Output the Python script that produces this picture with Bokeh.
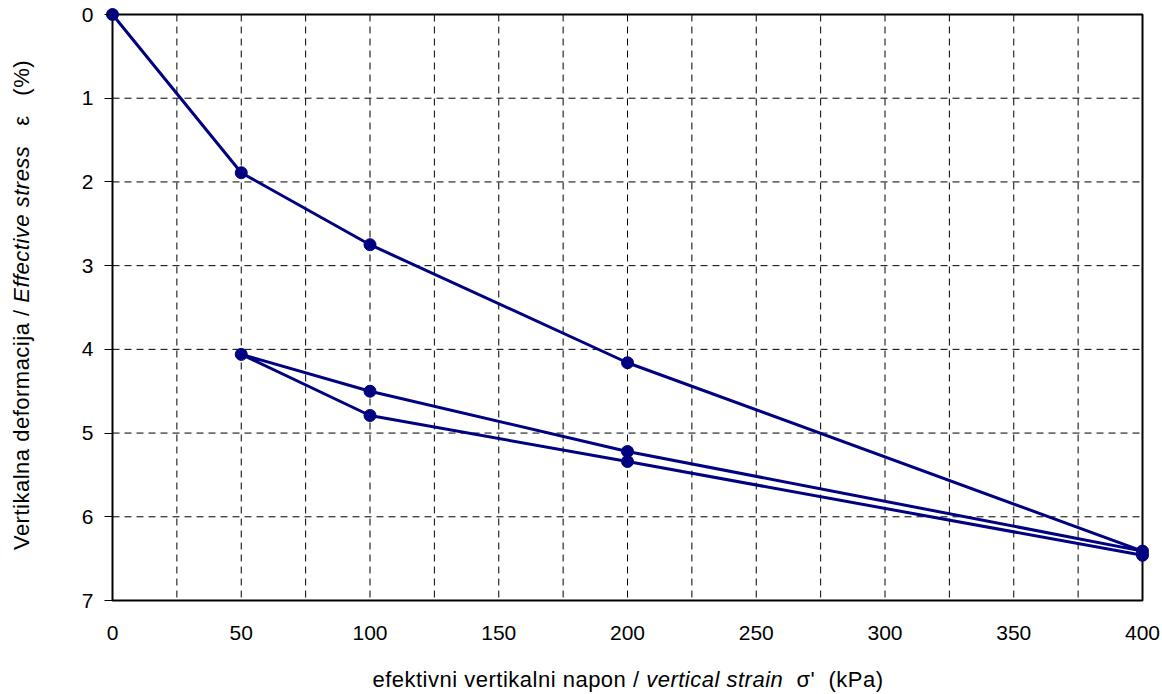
from bokeh.plotting import figure
from bokeh.models import Range1d, FixedTicker, Div
from bokeh.layouts import row, column
from bokeh.embed import file_html
from bokeh.resources import INLINE

# ---- data ----
stress = [0, 50, 100, 200, 400, 200, 100, 50, 100, 200, 400]          # kPa
strain = [0, 1.89, 2.75, 4.16, 6.41, 5.22, 4.50, 4.06, 4.79, 5.34, 6.46]  # %
x_ticks = [0, 50, 100, 150, 200, 250, 300, 350, 400]
x_grid = [25, 50, 75, 100, 125, 150, 175, 200, 225, 250, 275, 300, 325, 350, 375]
y_ticks = [0, 1, 2, 3, 4, 5, 6, 7]
y_grid = [1, 2, 3, 4, 5, 6]

FONT = "Liberation Sans"
PAGE_W, PAGE_H = 1162, 694
YT_W = 40            # width of the column holding the y title
XT_H = 44            # height of the row holding the x title
FIG_W, FIG_H = PAGE_W - YT_W, PAGE_H - XT_H

# plot box (0..400 x 0..7) in page pixels; padding keeps edge markers unclipped
BOX_L, BOX_R, BOX_T, BOX_B = 112, 1142, 14, 600
PAD = 8
FR_L, FR_R, FR_T, FR_B = BOX_L - PAD, BOX_R + PAD, BOX_T - PAD, BOX_B + PAD

x0, x1 = x_ticks[0], x_ticks[-1]
y0, y1 = y_ticks[0], y_ticks[-1]
px_x = (x1 - x0) / (BOX_R - BOX_L)
px_y = (y1 - y0) / (BOX_B - BOX_T)

p = figure(width=FIG_W, height=FIG_H, output_backend="svg", toolbar_location=None,
           x_range=Range1d(x0 - PAD * px_x, x1 + PAD * px_x),
           y_range=Range1d(y1 + PAD * px_y, y0 - PAD * px_y),
           min_border_left=FR_L - YT_W, min_border_right=PAGE_W - FR_R,
           min_border_top=FR_T, min_border_bottom=FIG_H - FR_B)
p.background_fill_color = "white"
p.border_fill_color = "white"
p.outline_line_color = None
p.xgrid.visible = False
p.ygrid.visible = False

TICK_FS = 21
for ax in (p.xaxis[0], p.yaxis[0]):
    ax.axis_line_color = None
    ax.minor_tick_line_color = None
    ax.major_label_text_font = FONT
    ax.major_label_text_font_size = f"{TICK_FS}px"
    ax.major_label_text_color = "black"
    ax.major_tick_line_color = "black"
    ax.major_tick_line_width = 1

p.xaxis.ticker = FixedTicker(ticks=x_ticks)
p.xaxis.major_tick_out = 0
p.xaxis.major_tick_in = 0
p.xaxis.major_label_standoff = 17

p.yaxis.ticker = FixedTicker(ticks=y_ticks)
p.yaxis.major_tick_out = 0
p.yaxis.major_tick_in = PAD
p.yaxis.major_label_standoff = 11

# dashed grid limited to the plot box
p.segment(x0=x_grid, x1=x_grid, y0=[y0] * len(x_grid), y1=[y1] * len(x_grid),
          line_color="black", line_width=1, line_dash="7 5")
p.segment(x0=[x0] * len(y_grid), x1=[x1] * len(y_grid), y0=y_grid, y1=y_grid,
          line_color="black", line_width=1, line_dash="7 5")
# box
p.quad(left=[x0], right=[x1], top=[y0], bottom=[y1], fill_color=None,
       line_color="black", line_width=2)

navy = "#000080"
p.line(stress, strain, line_color=navy, line_width=3)
p.scatter(stress, strain, size=12, fill_color=navy, line_color=navy)

# ---- axis titles (mixed regular / italic) as HTML ----
TFS = 22
txt_style = (f"font-family:'{FONT}'; font-size:{TFS}px; color:#000; white-space:nowrap; "
             "letter-spacing:0.5px; line-height:1; position:absolute;")

x_title_html = ("efektivni vertikalni napon / <i>vertical strain</i>&nbsp; "
                "σ'&nbsp; (kPa)")
y_title_html = ("Vertikalna deformacija / <i>Effective stress</i>&nbsp;&nbsp; "
                "ε&nbsp;&nbsp; (%)")

XT_CX, XT_CY = 628, 680   # page position of the x title centre
YT_CX, YT_CY = 22, 305    # page position of the y title centre

x_div = Div(width=FIG_W, height=XT_H, margin=0,
            text=(f"<div style='position:relative; width:{FIG_W}px; height:{XT_H}px;'>"
                  f"<div style=\"{txt_style} left:{XT_CX - YT_W}px; top:{XT_CY - FIG_H}px; "
                  f"transform:translate(-50%,-50%);\">{x_title_html}</div></div>"))
y_div = Div(width=YT_W, height=PAGE_H, margin=0,
            text=(f"<div style='position:relative; width:{YT_W}px; height:{PAGE_H}px;'>"
                  f"<div style=\"{txt_style} left:{YT_CX}px; top:{YT_CY}px; "
                  f"transform:translate(-50%,-50%) rotate(-90deg);\">{y_title_html}</div></div>"))

layout = row(y_div, column(p, x_div, spacing=0), spacing=0)

open("out.html", "w").write(file_html(layout, INLINE))
